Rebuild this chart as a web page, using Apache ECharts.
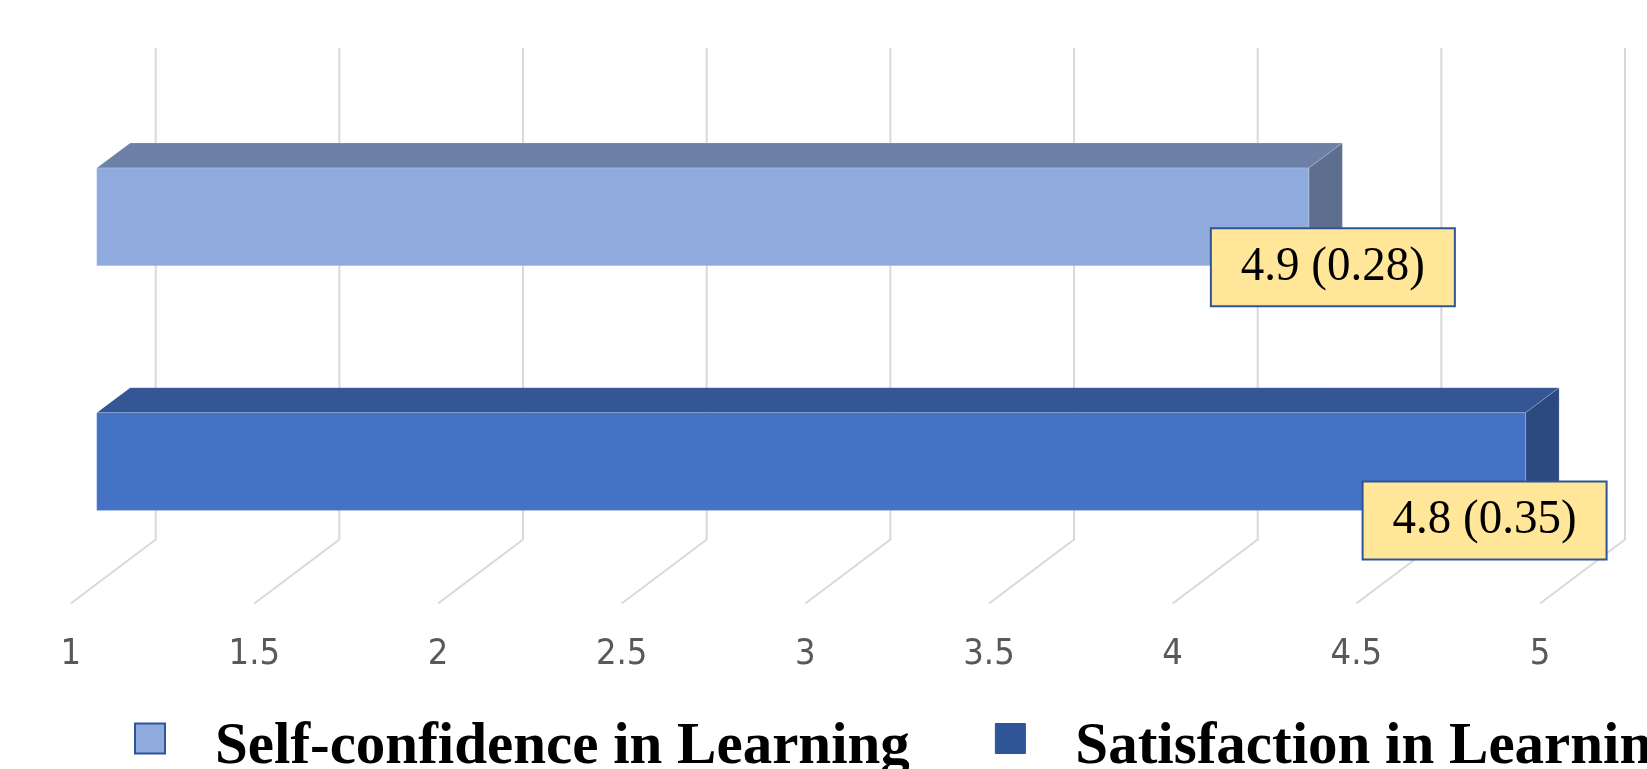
<!DOCTYPE html>
<html>
<head>
<meta charset="utf-8">
<script src="https://cdn.jsdelivr.net/npm/echarts@6/dist/echarts.min.js"></script>
<style>
    html, body { margin: 0; padding: 0; background: #fff; }
    #chart { width: 1647px; height: 769px; }
</style>
</head>
<body>
<div id="chart"></div>
<script>
// data
const seriesNames = ['Self-confidence in Learning', 'Satisfaction in Learning']
const barValues = [4.3, 4.89]       // drawn bar lengths
const means = [4.9, 4.8]            // label text
const sds = [0.28, 0.35]
const tickValues = [1, 1.5, 2, 2.5, 3, 3.5, 4, 4.5, 5]

// pseudo 3d look
const floorDepth = [85, -64]        // front plane -> back wall
const barShift = [26, -19.5]        // front plane -> bar front face
const barDepth = [33.5, -25]
const labelNudge = [[24, 1.5], [-41, 10]]

const faceColors = [
    { front: '#8FAADC', top: '#6D80A6', side: '#5E6E8E' },
    { front: '#4472C4', top: '#345694', side: '#2C4A80' }
]
const legendColors = [
    { color: '#8FAADC', borderColor: '#2F5597', borderWidth: 2 },
    { color: '#2F5597', borderColor: '#2F5597', borderWidth: 1 }
]
// square sitting in the top of a taller box, so the text sits a bit lower
const legendIcon = 'path://M0,0L30,0L30,30L0,30Z M0,48'

const chart = echarts.init(document.getElementById('chart'))

// gridlines: vertical on the back wall, diagonal across the floor
const gridRender = (params, api) => {
    const p = api.coord([api.value(0), 0])
    const cs = params.coordSys
    const bottom = cs.y + cs.height
    return {
        type: 'polyline',
        shape: {
            points: [
                [p[0] + floorDepth[0], cs.y + floorDepth[1] - 2],
                [p[0] + floorDepth[0], bottom + floorDepth[1]],
                [p[0], bottom]
            ]
        },
        style: { fill: null, stroke: '#D9D9D9', lineWidth: 2 },
        silent: true
    }
}

const barRender = idx => (params, api) => {
    const cat = api.value(1)
    const p0 = api.coord([tickValues[0], cat])
    const p1 = api.coord([api.value(0), cat])
    const h = api.size([0, 1])[1] * 0.4
    const x0 = p0[0] + barShift[0]
    const x1 = p1[0] + barShift[0]
    const yc = p0[1] + barShift[1]
    const yt = yc - h / 2
    const yb = yc + h / 2
    const dx = barDepth[0], dy = barDepth[1]
    const c = faceColors[idx]
    const edge = 'rgba(255,255,255,0.18)'
    const nudge = labelNudge[idx]
    const bx = x1 + nudge[0]
    const by = yb + nudge[1]
    const txt = means[idx] + ' (' + sds[idx].toFixed(2) + ')'
    return {
        type: 'group',
        children: [
            {
                type: 'polygon',
                shape: { points: [[x0, yt], [x1, yt], [x1 + dx, yt + dy], [x0 + dx, yt + dy]] },
                style: { fill: c.top, stroke: edge, lineWidth: 1 }
            },
            {
                type: 'polygon',
                shape: { points: [[x1, yt], [x1, yb], [x1 + dx, yb + dy], [x1 + dx, yt + dy]] },
                style: { fill: c.side, stroke: edge, lineWidth: 1 }
            },
            {
                type: 'rect',
                shape: { x: x0, y: yt, width: x1 - x0, height: h },
                style: { fill: c.front, stroke: edge, lineWidth: 1 }
            },
            {
                type: 'rect',
                shape: { x: bx - 122, y: by - 39, width: 244, height: 78 },
                style: { fill: '#FFE699', stroke: '#2F5597', lineWidth: 2 }
            },
            {
                type: 'text',
                x: bx,
                y: by,
                scaleY: 1.03,
                style: {
                    text: txt,
                    x: 0,
                    y: 0,
                    align: 'center',
                    verticalAlign: 'middle',
                    fontFamily: '"Liberation Serif", "Times New Roman", serif',
                    fontSize: 47,
                    fill: '#000'
                }
            }
        ]
    }
}

const option = {
    backgroundColor: '#fff',
    animation: false,
    grid: { left: 70.7, right: 107, top: 114, bottom: 165.5, containLabel: false },
    xAxis: {
        type: 'value',
        min: 1,
        max: 5,
        interval: 0.5,
        axisLine: { show: false },
        axisTick: { show: false },
        splitLine: { show: false },
        axisLabel: {
            color: '#595959',
            fontSize: 36,
            margin: 33,
            fontFamily: '"Liberation Sans Narrow", "DejaVu Sans Condensed", sans-serif'
        }
    },
    yAxis: {
        type: 'category',
        data: seriesNames,
        inverse: true,
        show: false
    },
    legend: {
        data: seriesNames.map((n, i) => ({ name: n, itemStyle: legendColors[i] })),
        left: 129,
        top: 713,
        width: 3000,
        icon: legendIcon,
        itemWidth: 30,
        itemHeight: 48,
        itemGap: 85,
        textStyle: {
            fontFamily: '"Liberation Serif", "Times New Roman", serif',
            fontWeight: 'bold',
            fontSize: 59,
            color: '#000',
            padding: [0, 0, 0, 45]
        }
    },
    series: [
        {
            type: 'custom',
            z: 1,
            silent: true,
            renderItem: gridRender,
            encode: { x: 0, y: 1 },
            data: tickValues.map(v => [v, 0])
        },
        ...seriesNames.map((name, i) => ({
            name: name,
            type: 'custom',
            z: 2,
            itemStyle: legendColors[i],
            renderItem: barRender(i),
            encode: { x: 0, y: 1 },
            data: [[barValues[i], i]]
        }))
    ]
}

chart.setOption(option)
window.onresize = () => chart.resize()
</script>
</body>
</html>
